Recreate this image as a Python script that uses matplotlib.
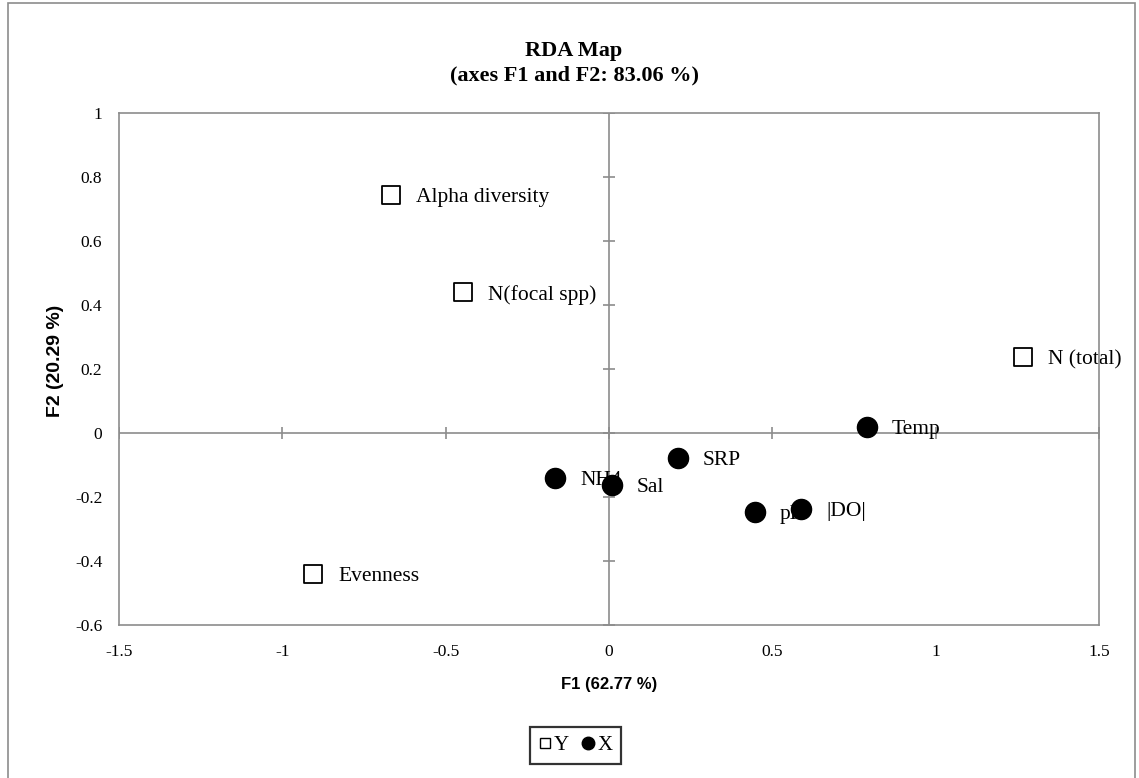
import matplotlib
matplotlib.use("Agg")
import matplotlib.pyplot as plt
from matplotlib.lines import Line2D
from matplotlib.patches import Rectangle

# Data
y_labels = ["Alpha diversity", "N(focal spp)", "N (total)", "Evenness"]
y_f1 = [-0.667, -0.447, 1.267, -0.906]
y_f2 = [0.744, 0.440, 0.237, -0.440]

x_labels = ["Temp", "SRP", "NH4", "Sal", "pH", "|DO|"]
x_f1 = [0.790, 0.211, -0.165, 0.009, 0.447, 0.588]
x_f2 = [0.019, -0.078, -0.140, -0.162, -0.247, -0.237]

xticks = [-1.5, -1, -0.5, 0, 0.5, 1, 1.5]
xtick_labels = ["-1.5", "-1", "-0.5", "0", "0.5", "1", "1.5"]
yticks = [-0.6, -0.4, -0.2, 0, 0.2, 0.4, 0.6, 0.8, 1]
ytick_labels = ["-0.6", "-0.4", "-0.2", "0", "0.2", "0.4", "0.6", "0.8", "1"]

serif = ["Liberation Serif", "DejaVu Serif"]
sans = ["Liberation Sans", "DejaVu Sans"]
gray = "#8c8c8c"

fig = plt.figure(figsize=(11.39, 7.78), dpi=100)
fig.patches.append(Rectangle((8/1139, -0.01), (1135-8)/1139, 1-3/778 + 0.01,
                             transform=fig.transFigure, fill=False,
                             edgecolor=gray, linewidth=1.2))

ax = fig.add_axes([119/1139, 1-625/778, 980/1139, 512/778])
ax.set_xlim(-1.5, 1.5)
ax.set_ylim(-0.6, 1.0)
for s in ax.spines.values():
    s.set_color(gray)
    s.set_linewidth(1.2)

ax.set_xticks(xticks)
ax.set_xticklabels(xtick_labels, fontfamily=serif, fontsize=12.5)
ax.set_yticks(yticks)
ax.set_yticklabels(ytick_labels, fontfamily=serif, fontsize=12.5)
ax.tick_params(length=0, pad=14)
ax.tick_params(axis="y", pad=12)

# zero lines with cross ticks
ax.axhline(0, color=gray, lw=1.2, zorder=1)
ax.axvline(0, color=gray, lw=1.2, zorder=1)
ax.plot(xticks, [0]*len(xticks), linestyle="none", marker="|", markersize=9,
        color=gray, markeredgewidth=1.2, zorder=1)
ax.plot([0]*len(yticks), yticks, linestyle="none", marker="_", markersize=9,
        color=gray, markeredgewidth=1.2, zorder=1)

ax.scatter(y_f1, y_f2, marker="s", s=180, facecolor="white", edgecolor="black",
           linewidth=1.3, zorder=3)
ax.scatter(x_f1, x_f2, marker="o", s=210, facecolor="black", edgecolor="black",
           zorder=3)

for lab, xv, yv in zip(y_labels, y_f1, y_f2):
    ax.annotate(lab, (xv, yv), xytext=(18, 0), textcoords="offset points",
                va="center_baseline", ha="left", fontfamily=serif, fontsize=15.5, zorder=2)
for lab, xv, yv in zip(x_labels, x_f1, x_f2):
    ax.annotate(lab, (xv, yv), xytext=(18, 0), textcoords="offset points",
                va="center_baseline", ha="left", fontfamily=serif, fontsize=15.5, zorder=2)

ax.set_xlabel("F1 (62.77 %)", fontfamily=sans, fontweight="bold", fontsize=12, labelpad=12)
ax.set_ylabel("F2 (20.29 %)", fontfamily=sans, fontweight="bold", fontsize=14)
ax.yaxis.set_label_coords((64-119)/980, (625-361)/512)

fig.text(574/1139, 1-51/778, "RDA Map", ha="center", va="center",
         fontfamily=serif, fontweight="bold", fontsize=16)
fig.text(574/1139, 1-75/778, "(axes F1 and F2: 83.06 %)", ha="center", va="center",
         fontfamily=serif, fontweight="bold", fontsize=16)

handles = [Line2D([], [], linestyle="none", marker="s", markersize=7,
                  markerfacecolor="white", markeredgecolor="black"),
           Line2D([], [], linestyle="none", marker="o", markersize=9,
                  markerfacecolor="black", markeredgecolor="black")]
leg = fig.legend(handles, ["Y", "X"], loc="center", bbox_to_anchor=(575.5/1139, 1-745.5/778),
                 ncol=2, prop={"family": serif, "size": 15}, frameon=True,
                 fancybox=False, handlelength=0.6, handletextpad=0.15,
                 columnspacing=0.6, borderpad=0.4, borderaxespad=0, edgecolor="black")
leg.get_frame().set_linewidth(1.6)

fig.savefig("out.png", dpi=100)
